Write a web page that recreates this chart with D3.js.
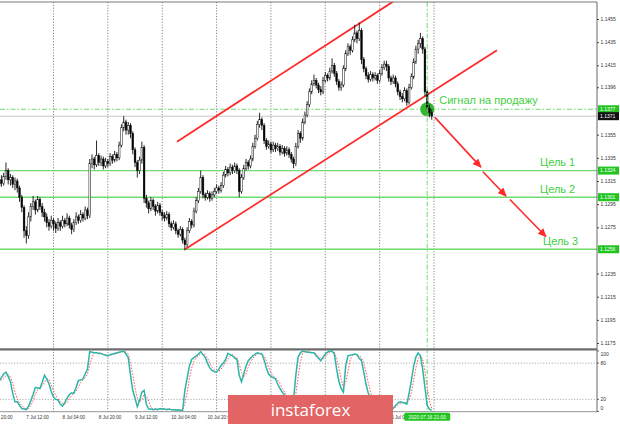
<!DOCTYPE html>
<html><head><meta charset="utf-8">
<script src="https://cdn.jsdelivr.net/npm/d3@7"></script>
<style>html,body{margin:0;padding:0;background:#fff;overflow:hidden}</style>
</head><body>
<svg id="c" width="620" height="424"></svg>
<script>
// ---------- DATA ----------
const days = ["6 Jul","7 Jul","8 Jul","9 Jul","10 Jul","13 Jul","14 Jul","15 Jul","16 Jul"];
const futureTimes = ["17 Jul 00:00"];
const timeLabels = ["6 Jul 20:00","7 Jul 12:00","8 Jul 04:00","8 Jul 20:00","9 Jul 12:00","10 Jul 04:00","10 Jul 20:00","16 Jul 04:00"];
const gridTimes = ["8 Jul 00:00","9 Jul 00:00","10 Jul 00:00","13 Jul 00:00","14 Jul 00:00","15 Jul 00:00","16 Jul 00:00","17 Jul 00:00"];
const priceTicks = [1.1455,1.1435,1.1415,1.1396,1.1355,1.1335,1.1315,1.1295,1.1275,1.1235,1.1215,1.1195,1.1175];
const stochTicks = [100,80,20,0];
const stochLevels = [80,20];
const targetLevels = [1.1324,1.1301,1.1256];
const targetNames = ["Цель 1","Цель 2","Цель 3"];
const signalPrice = 1.1377;
const bidPrice = 1.1371;
const signalTime = "16 Jul 21:00";
const signalText = "Сигнал на продажу";
const crossLabel = "2020.07.16 21:00";
// channel lines: [barIndex, price]
const channelUpper = [[82.5,1.1349],[177.9,1.1470]];
const channelLower = [[86.1,1.1256],[223.8,1.1428]];
// arrows: [barIndex0, price0, barIndex1, price1]
const arrows = [[196.4,1.1370,216.7,1.1327],[217.6,1.1323,227.8,1.1302],[229.5,1.1299,245.4,1.1267]];
// candles [open, high, low, close], H1 from 6 Jul 20:00
const candles = [
[1.1308,1.1315,1.1305,1.1312],[1.1312,1.1314,1.1306,1.1309],[1.1309,1.1317,1.1307,1.1314],[1.1314,1.1316,1.1308,1.1311],[1.1311,1.1318,1.1309,1.1316],
[1.1316,1.1320,1.1310,1.1313],[1.1313,1.1322,1.1311,1.1319],[1.1319,1.1331,1.1316,1.1324],[1.1324,1.1326,1.1312,1.1316],[1.1316,1.1321,1.1311,1.1318],
[1.1318,1.1320,1.1309,1.1312],[1.1312,1.1318,1.1307,1.1315],[1.1315,1.1317,1.1305,1.1309],[1.1309,1.1311,1.1297,1.1301],[1.1301,1.1303,1.1288,1.1292],
[1.1292,1.1294,1.1266,1.1272],[1.1272,1.1276,1.1261,1.1268],[1.1268,1.1288,1.1265,1.1284],[1.1284,1.1296,1.1280,1.1293],[1.1293,1.1302,1.1290,1.1297],
[1.1297,1.1299,1.1286,1.1290],[1.1290,1.1302,1.1288,1.1299],[1.1299,1.1301,1.1290,1.1293],[1.1293,1.1296,1.1284,1.1288],[1.1288,1.1291,1.1280,1.1284],
[1.1284,1.1287,1.1275,1.1279],[1.1279,1.1282,1.1272,1.1276],[1.1276,1.1285,1.1274,1.1281],[1.1281,1.1283,1.1272,1.1278],[1.1278,1.1280,1.1270,1.1274],
[1.1274,1.1283,1.1272,1.1279],[1.1279,1.1281,1.1272,1.1276],[1.1276,1.1285,1.1274,1.1281],[1.1281,1.1283,1.1275,1.1278],[1.1278,1.1287,1.1276,1.1283],
[1.1283,1.1285,1.1274,1.1277],[1.1277,1.1279,1.1269,1.1273],[1.1273,1.1282,1.1271,1.1279],[1.1279,1.1288,1.1277,1.1284],[1.1284,1.1286,1.1278,1.1281],
[1.1281,1.1290,1.1279,1.1286],[1.1286,1.1288,1.1280,1.1283],[1.1283,1.1293,1.1281,1.1290],[1.1290,1.1292,1.1282,1.1285],[1.1285,1.1334,1.1283,1.1330],
[1.1330,1.1338,1.1326,1.1334],[1.1334,1.1336,1.1325,1.1329],[1.1329,1.1350,1.1327,1.1337],[1.1337,1.1339,1.1328,1.1331],[1.1331,1.1337,1.1328,1.1334],
[1.1334,1.1336,1.1325,1.1328],[1.1328,1.1335,1.1326,1.1332],[1.1332,1.1334,1.1327,1.1330],[1.1330,1.1339,1.1328,1.1336],[1.1336,1.1338,1.1330,1.1333],
[1.1333,1.1341,1.1331,1.1338],[1.1338,1.1340,1.1332,1.1335],[1.1335,1.1349,1.1333,1.1346],[1.1346,1.1364,1.1344,1.1361],[1.1361,1.1371,1.1358,1.1366],
[1.1366,1.1368,1.1355,1.1359],[1.1359,1.1366,1.1355,1.1363],[1.1363,1.1365,1.1352,1.1356],[1.1356,1.1358,1.1338,1.1342],[1.1342,1.1344,1.1327,1.1331],
[1.1331,1.1333,1.1318,1.1324],[1.1324,1.1336,1.1321,1.1333],[1.1333,1.1349,1.1330,1.1344],[1.1344,1.1346,1.1296,1.1300],[1.1300,1.1303,1.1292,1.1296],
[1.1296,1.1298,1.1287,1.1291],[1.1291,1.1301,1.1289,1.1298],[1.1298,1.1300,1.1290,1.1293],[1.1293,1.1295,1.1285,1.1289],[1.1289,1.1297,1.1287,1.1294],
[1.1294,1.1296,1.1285,1.1288],[1.1288,1.1290,1.1281,1.1285],[1.1285,1.1288,1.1280,1.1283],[1.1283,1.1289,1.1281,1.1286],[1.1286,1.1288,1.1275,1.1278],
[1.1278,1.1280,1.1272,1.1275],[1.1275,1.1281,1.1273,1.1278],[1.1278,1.1280,1.1269,1.1272],[1.1272,1.1274,1.1266,1.1269],[1.1269,1.1276,1.1267,1.1273],
[1.1273,1.1275,1.1261,1.1264],[1.1264,1.1266,1.1255,1.1260],[1.1260,1.1275,1.1258,1.1272],[1.1272,1.1283,1.1270,1.1280],[1.1280,1.1282,1.1274,1.1277],
[1.1277,1.1292,1.1275,1.1289],[1.1289,1.1301,1.1287,1.1298],[1.1298,1.1309,1.1296,1.1306],[1.1306,1.1324,1.1304,1.1318],[1.1318,1.1320,1.1300,1.1303],
[1.1303,1.1305,1.1298,1.1301],[1.1301,1.1307,1.1299,1.1304],[1.1304,1.1306,1.1297,1.1300],[1.1300,1.1306,1.1298,1.1303],[1.1303,1.1309,1.1301,1.1306],
[1.1306,1.1312,1.1304,1.1309],[1.1309,1.1311,1.1304,1.1307],[1.1307,1.1314,1.1305,1.1311],[1.1311,1.1323,1.1309,1.1320],[1.1320,1.1328,1.1318,1.1325],
[1.1325,1.1327,1.1319,1.1322],[1.1322,1.1330,1.1320,1.1327],[1.1327,1.1329,1.1321,1.1324],[1.1324,1.1331,1.1322,1.1328],[1.1328,1.1330,1.1321,1.1324],
[1.1324,1.1326,1.1301,1.1306],[1.1306,1.1321,1.1304,1.1318],[1.1318,1.1329,1.1316,1.1326],[1.1326,1.1334,1.1324,1.1331],[1.1331,1.1333,1.1325,1.1328],
[1.1328,1.1337,1.1326,1.1334],[1.1334,1.1348,1.1332,1.1345],[1.1345,1.1355,1.1343,1.1352],[1.1352,1.1367,1.1350,1.1364],[1.1364,1.1374,1.1361,1.1368],
[1.1368,1.1370,1.1359,1.1363],[1.1363,1.1365,1.1347,1.1350],[1.1350,1.1352,1.1342,1.1345],[1.1345,1.1350,1.1343,1.1347],[1.1347,1.1349,1.1339,1.1342],
[1.1342,1.1349,1.1340,1.1346],[1.1346,1.1348,1.1340,1.1343],[1.1343,1.1348,1.1341,1.1345],[1.1345,1.1347,1.1337,1.1340],[1.1340,1.1346,1.1338,1.1343],
[1.1343,1.1345,1.1336,1.1339],[1.1339,1.1345,1.1337,1.1342],[1.1342,1.1344,1.1335,1.1338],[1.1338,1.1340,1.1331,1.1334],[1.1334,1.1336,1.1326,1.1330],
[1.1330,1.1348,1.1328,1.1345],[1.1345,1.1359,1.1343,1.1356],[1.1356,1.1358,1.1348,1.1352],[1.1352,1.1369,1.1350,1.1366],[1.1366,1.1375,1.1364,1.1372],
[1.1372,1.1384,1.1370,1.1381],[1.1381,1.1395,1.1379,1.1392],[1.1392,1.1402,1.1390,1.1399],[1.1399,1.1407,1.1397,1.1402],[1.1402,1.1404,1.1395,1.1398],
[1.1398,1.1400,1.1391,1.1394],[1.1394,1.1397,1.1389,1.1392],[1.1392,1.1405,1.1390,1.1402],[1.1402,1.1409,1.1400,1.1406],[1.1406,1.1408,1.1401,1.1404],
[1.1404,1.1413,1.1402,1.1410],[1.1410,1.1421,1.1408,1.1415],[1.1415,1.1417,1.1405,1.1408],[1.1408,1.1410,1.1398,1.1401],[1.1401,1.1403,1.1393,1.1396],
[1.1396,1.1401,1.1393,1.1398],[1.1398,1.1415,1.1396,1.1412],[1.1412,1.1428,1.1410,1.1425],[1.1425,1.1434,1.1423,1.1431],[1.1431,1.1433,1.1424,1.1428],
[1.1428,1.1440,1.1426,1.1437],[1.1437,1.1450,1.1435,1.1443],[1.1443,1.1445,1.1434,1.1438],[1.1438,1.1452,1.1436,1.1445],[1.1445,1.1447,1.1416,1.1420],
[1.1420,1.1422,1.1409,1.1412],[1.1412,1.1414,1.1403,1.1406],[1.1406,1.1409,1.1400,1.1403],[1.1403,1.1410,1.1401,1.1407],[1.1407,1.1409,1.1401,1.1404],
[1.1404,1.1409,1.1402,1.1406],[1.1406,1.1408,1.1399,1.1402],[1.1402,1.1411,1.1400,1.1408],[1.1408,1.1416,1.1406,1.1413],[1.1413,1.1419,1.1411,1.1416],
[1.1416,1.1419,1.1410,1.1414],[1.1414,1.1416,1.1401,1.1404],[1.1404,1.1406,1.1398,1.1401],[1.1401,1.1407,1.1399,1.1404],[1.1404,1.1406,1.1396,1.1399],
[1.1399,1.1401,1.1389,1.1392],[1.1392,1.1394,1.1385,1.1388],[1.1388,1.1391,1.1383,1.1386],[1.1386,1.1396,1.1384,1.1393],[1.1393,1.1395,1.1380,1.1383],
[1.1383,1.1399,1.1381,1.1396],[1.1396,1.1408,1.1394,1.1405],[1.1405,1.1421,1.1403,1.1418],[1.1418,1.1432,1.1416,1.1429],[1.1429,1.1437,1.1425,1.1434],
[1.1434,1.1443,1.1430,1.1438],[1.1438,1.1440,1.1425,1.1429],[1.1429,1.1431,1.1388,1.1392],[1.1392,1.1394,1.1375,1.1378],[1.1378,1.1381,1.1370,1.1374],
[1.1374,1.1377,1.1368,1.1371]
];
// Stochastic %K (main) and %D (signal)
const stochK = [
40,44,48,50,51,56,62,65,58,49, 30,16,16,10,5,4,3,9,18,28,
40,39,38,48,60,54,46,33,24,20, 19,12,9,15,22,28,31,30,40,51,
52,54,62,70,99,98,97,97,96,96, 94,93,92,94,95,96,97,98,99,100,
95,89,60,35,22,8,18,32,35,12, 4,4,3,4,3,5,4,4,3,4,
3,3,2,3,2,2,35,55,75,86, 89,92,95,99,94,89,80,72,68,66,
65,70,76,80,86,96,94,92,88,86, 60,49,62,75,84,88,92,95,97,96,
95,85,72,62,58,56,54,45,38,32, 27,20,14,8,20,60,90,97,100,99,
98,98,97,97,92,88,84,90,95,98, 100,100,95,70,50,38,32,75,92,93,
94,95,94,88,84,65,45,30,20,10, 8,7,9,12,10,9,8,6,5,10,
14,16,15,14,12,30,51,75,90,97, 92,70,40,10,4,2
];
const stochD = [
42,43,45,47,49,52,55,59,61,57, 46,32,21,14,10,6,4,5,10,18,
29,36,39,42,48,54,53,44,34,26, 21,16,13,12,15,21,27,30,34,40,
48,52,56,62,77,89,98,97,97,96, 95,94,93,93,94,95,96,97,98,99,
98,95,81,61,39,22,16,19,28,26, 17,7,4,4,4,4,4,4,4,4,
3,3,3,3,2,2,13,31,55,72, 83,89,92,95,96,94,88,80,73,69,
66,67,70,75,81,87,92,94,91,89, 78,65,57,62,74,82,88,92,95,96,
96,92,84,73,64,59,56,52,46,38, 32,26,20,14,14,29,57,82,96,99,
99,98,98,97,95,92,88,87,90,94, 98,99,98,88,72,53,40,48,66,86,
93,94,94,92,89,79,65,47,32,20, 13,8,8,10,10,10,9,8,6,7,
10,13,15,15,14,19,31,52,72,87, 93,86,67,40,18,5
];

// ---------- CATEGORIES ----------
const pad2 = n => (n<10?"0":"")+n;
const barTimes = [];
days.forEach((d,k)=>{ for(let h=(k===0?20:0); h<24; h++) barTimes.push(d+" "+pad2(h)+":00"); });
const allTimes = barTimes.concat(futureTimes);
const idx = t => allTimes.indexOf(t);

// ---------- LAYOUT ----------
const W=620,H=424, RX=597, mainTop=2, mainBot=348.3, indTop=350.5, indBot=411.7;
const GREEN="#3fcf3f", LINEG="#6fdc6f", BOXG="#22c422", RED="#ff2a2a";
const FONT="Liberation Sans, Arial, sans-serif";
const svg = d3.select("#c");
const x = d3.scaleLinear().domain([idx("8 Jul 00:00"), idx("17 Jul 00:00")]).range([53.5,434]);
const y = d3.scaleLinear().domain([1.1175,1.1455]).range([343,19]);
const yS = d3.scaleLinear().domain([0,100]).range([411.5,351]);

svg.append("rect").attr("width",W).attr("height",H).attr("fill","#fff");
const defs = svg.append("defs");
defs.append("clipPath").attr("id","clipMain").append("rect").attr("x",0).attr("y",mainTop).attr("width",RX).attr("height",mainBot-mainTop);
defs.append("clipPath").attr("id","clipInd").append("rect").attr("x",0).attr("y",indTop-1).attr("width",RX).attr("height",indBot-indTop+1);
defs.append("marker").attr("id","ah").attr("markerUnits","userSpaceOnUse").attr("markerWidth",9).attr("markerHeight",8)
  .attr("refX",8).attr("refY",4).attr("orient","auto")
  .append("path").attr("d","M0,0 L9,4 L0,8 Z").attr("fill",RED);

// grid
svg.append("g").selectAll("line").data(gridTimes).join("line")
  .attr("x1",d=>x(idx(d))).attr("x2",d=>x(idx(d))).attr("y1",mainTop).attr("y2",indBot)
  .attr("stroke","#6a6a6a").attr("stroke-width",0.8).attr("stroke-dasharray","1.2,1.6");

const gm = svg.append("g").attr("clip-path","url(#clipMain)");
gm.selectAll("line.lvl").data(targetLevels).join("line").attr("class","lvl")
  .attr("x1",0).attr("x2",RX).attr("y1",d=>y(d)).attr("y2",d=>y(d))
  .attr("stroke",LINEG).attr("stroke-width",1.4);
gm.append("line").attr("x1",0).attr("x2",RX).attr("y1",y(bidPrice)).attr("y2",y(bidPrice))
  .attr("stroke","#c8c8c8").attr("stroke-width",1);
gm.append("line").attr("x1",0).attr("x2",RX).attr("y1",y(signalPrice)).attr("y2",y(signalPrice))
  .attr("stroke",LINEG).attr("stroke-width",1).attr("stroke-dasharray","5,2,1.5,2");
[channelUpper, channelLower].forEach(c=>{
  gm.append("line").attr("x1",x(c[0][0])).attr("y1",y(c[0][1])).attr("x2",x(c[1][0])).attr("y2",y(c[1][1]))
    .attr("stroke",RED).attr("stroke-width",1.8);
});
gm.append("circle").attr("cx",x(idx(signalTime))).attr("cy",y(signalPrice)).attr("r",7).attr("fill","#2fb82f");
gm.selectAll("line.w").data(candles).join("line").attr("class","w")
  .attr("x1",(d,i)=>x(i)).attr("x2",(d,i)=>x(i)).attr("y1",d=>y(d[1])).attr("y2",d=>y(d[2]))
  .attr("stroke","#111").attr("stroke-width",0.9);
gm.selectAll("rect.b").data(candles).join("rect").attr("class","b")
  .attr("x",(d,i)=>x(i)-0.85).attr("width",1.7)
  .attr("y",d=>y(Math.max(d[0],d[3]))).attr("height",d=>Math.max(0.8,Math.abs(y(d[0])-y(d[3]))))
  .attr("fill",d=>d[3]>=d[0]?"#fff":"#000").attr("stroke","#111").attr("stroke-width",0.5);
svg.append("line").attr("x1",x(idx(signalTime))).attr("x2",x(idx(signalTime))).attr("y1",mainTop).attr("y2",indBot)
  .attr("stroke",LINEG).attr("stroke-width",1).attr("stroke-dasharray","5,2,1.5,2");
svg.append("g").selectAll("line").data(arrows).join("line")
  .attr("x1",d=>x(d[0])).attr("y1",d=>y(d[1])).attr("x2",d=>x(d[2])).attr("y2",d=>y(d[3]))
  .attr("stroke",RED).attr("stroke-width",1.6).attr("marker-end","url(#ah)");
svg.append("text").attr("x",x(idx(signalTime))+12).attr("y",y(signalPrice)-5)
  .attr("font-family",FONT).attr("font-size",11).attr("fill",GREEN).text(signalText);
const tX=[540,540,543];
svg.append("g").selectAll("text").data(targetLevels).join("text")
  .attr("x",(d,i)=>tX[i]).attr("y",d=>y(d)-4.5)
  .attr("font-family",FONT).attr("font-size",11).attr("fill",GREEN)
  .text((d,i)=>targetNames[i]);

// frame lines
svg.append("line").attr("x1",0).attr("x2",RX).attr("y1",mainTop).attr("y2",mainTop).attr("stroke","#777").attr("stroke-width",1);
svg.append("rect").attr("x",0).attr("y",mainBot).attr("width",RX).attr("height",indTop-mainBot).attr("fill","#6a6a6a");
svg.append("line").attr("x1",0).attr("x2",RX).attr("y1",indBot).attr("y2",indBot).attr("stroke","#777").attr("stroke-width",0.8);
svg.append("line").attr("x1",RX).attr("x2",RX).attr("y1",mainTop).attr("y2",indBot).attr("stroke","#666").attr("stroke-width",1);

// right price axis
const ax = svg.append("g").attr("transform",`translate(${RX},0)`)
  .call(d3.axisRight(y).tickValues(priceTicks).tickFormat(d3.format(".4f")).tickSize(2).tickPadding(1.5));
ax.select(".domain").remove();
ax.attr("font-family",FONT).attr("font-size",5);
ax.selectAll("line").attr("stroke","#444");
ax.selectAll("text").attr("fill","#333");
const boxes = targetLevels.concat([signalPrice]);
svg.append("g").selectAll("rect").data(boxes).join("rect")
  .attr("x",RX+1).attr("y",d=>y(d)-4).attr("width",21).attr("height",8).attr("fill",BOXG);
svg.append("g").selectAll("text").data(boxes).join("text")
  .attr("x",RX+3).attr("y",d=>y(d)+1.8).attr("font-family",FONT).attr("font-size",5)
  .attr("fill","#fff").text(d=>d3.format(".4f")(d));
svg.append("rect").attr("x",RX+1).attr("y",y(bidPrice)-4).attr("width",21).attr("height",8).attr("fill","#111");
svg.append("text").attr("x",RX+3).attr("y",y(bidPrice)+1.8).attr("font-family",FONT).attr("font-size",5)
  .attr("fill","#fff").text(d3.format(".4f")(bidPrice));

// indicator
const gi = svg.append("g").attr("clip-path","url(#clipInd)");
gi.selectAll("line").data(stochLevels).join("line").attr("x1",0).attr("x2",RX).attr("y1",d=>yS(d)).attr("y2",d=>yS(d))
  .attr("stroke","#999").attr("stroke-width",0.8).attr("stroke-dasharray","1.2,1.6");
gi.append("path").datum(stochD).attr("d",d3.line().x((d,i)=>x(i)).y(d=>yS(d)))
  .attr("fill","none").attr("stroke","#ff5555").attr("stroke-width",1).attr("stroke-dasharray","1.5,1.5");
gi.append("path").datum(stochK).attr("d",d3.line().x((d,i)=>x(i)).y(d=>yS(d)))
  .attr("fill","none").attr("stroke","#2bb5a8").attr("stroke-width",1.5);
const sa = svg.append("g");
sa.selectAll("line").data(stochTicks).join("line").attr("x1",RX).attr("x2",RX+2).attr("y1",d=>yS(d)).attr("y2",d=>yS(d)).attr("stroke","#444").attr("stroke-width",0.8);
sa.selectAll("text").data(stochTicks).join("text").attr("x",RX+3.5).attr("y",d=>Math.min(408,Math.max(354,yS(d)))+1.8)
  .attr("font-family",FONT).attr("font-size",5).attr("fill","#333").text(d=>d);

// time axis
svg.append("g").selectAll("text").data(timeLabels).join("text")
  .attr("x",d=>x(idx(d))).attr("y",419).attr("font-family",FONT).attr("font-size",4.6)
  .attr("fill","#333").text(d=>d);
const cx = x(idx(signalTime));
svg.append("rect").attr("x",cx-23).attr("y",412.8).attr("width",46).attr("height",8).attr("rx",1.5).attr("fill",BOXG);
svg.append("text").attr("x",cx).attr("y",418.6).attr("text-anchor","middle").attr("font-family",FONT)
  .attr("font-size",4.8).attr("fill","#fff").text(crossLabel);

// watermark
svg.append("rect").attr("x",228).attr("y",395).attr("width",165).attr("height",29).attr("fill","#e26464");
svg.append("text").attr("x",310.5).attr("y",416).attr("text-anchor","middle").attr("font-family","Open Sans, sans-serif")
  .attr("font-size",17).attr("fill","#fff").text("instaforex");
</script>
</body></html>
